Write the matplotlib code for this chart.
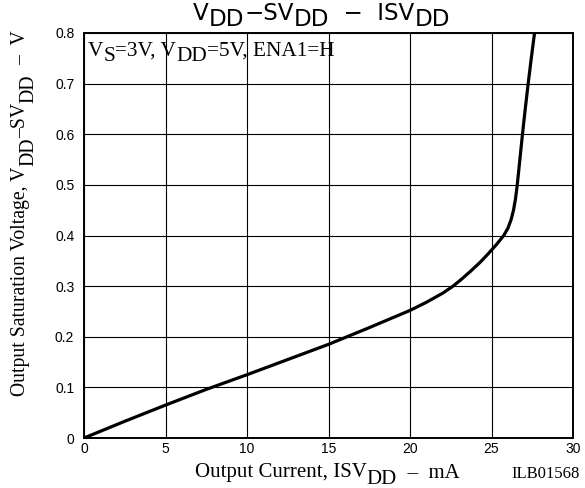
"""
Output saturation voltage VDD-SVDD against output current ISVDD.
"""

import matplotlib
matplotlib.use("Agg")
import matplotlib.pyplot as plt

# Curve
current_ma = [0, 2.5, 5, 7.5, 10, 12.5, 15, 17.5, 20, 21, 22, 22.6,
              23.1, 23.7, 24.3, 24.8, 25.3, 25.75, 26.0, 26.2, 26.35,
              26.47, 26.58, 26.74, 26.9, 27.07, 27.25, 27.44, 27.64]
voltage_v = [0, 0.033, 0.065, 0.096, 0.125, 0.155, 0.185, 0.218, 0.252,
             0.268, 0.286, 0.299, 0.312, 0.329, 0.347, 0.364, 0.382, 0.4,
             0.414, 0.431, 0.45, 0.472, 0.5, 0.55, 0.6, 0.65, 0.7, 0.75,
             0.8]

x_ticks = [0, 5, 10, 15, 20, 25, 30]
y_ticks = [0, 0.1, 0.2, 0.3, 0.4, 0.5, 0.6, 0.7, 0.8]
y_tick_labels = ["0", "0.1", "0.2", "0.3", "0.4", "0.5", "0.6", "0.7", "0.8"]

# Text runs: (string, is_subscript)
title_runs = [("V", False), ("DD", True), ("−SV", False), ("DD", True),
              ("  −  ISV", False), ("DD", True)]
cond_runs = [("V", False), ("S", True), ("=3V, V", False), ("DD", True),
             ("=5V, ENA1=H", False)]
xlabel_runs = [("Output Current, ISV", False), ("DD", True),
               ("  –  mA", False)]
ylabel_runs = [("Output Saturation Voltage, V", False), ("DD", True),
               ("–SV", False), ("DD", True), ("  –  V", False)]
fig_code = "ILB01568"

SERIF = "Liberation Serif"
SANS = "Liberation Sans"
WIDE_SANS = "DejaVu Sans"
W, H = 585, 488


def _run_width(fig, renderer, s, size, family):
    # width including spaces, measured between two bars
    t1 = fig.text(0, 0, "|" + s + "|", fontsize=size, family=family)
    t2 = fig.text(0, 0, "||", fontsize=size, family=family)
    w = (t1.get_window_extent(renderer).width
         - t2.get_window_extent(renderer).width)
    t1.remove()
    t2.remove()
    return w


def draw_runs(fig, x, y, runs, size, family, sub_scale=1.0, sub_drop=0,
              rotation=0, align="center"):
    """
    Draw text with real subscripts. x, y are pixels from the top-left,
    at the baseline.
    """
    renderer = fig.canvas.get_renderer()
    sizes = [size * sub_scale if sub else size for _, sub in runs]
    widths = [_run_width(fig, renderer, s, fs, family)
              for (s, _), fs in zip(runs, sizes)]
    total = sum(widths)
    pos = {"center": -total / 2, "left": 0, "right": -total}[align]
    for (s, sub), fs, w in zip(runs, sizes, widths):
        drop = sub_drop if sub else 0
        if rotation == 0:
            px, py = x + pos, y + drop
        else:
            px, py = x + drop, y - pos
        fig.text(px / W, 1 - py / H, s, fontsize=fs, family=family,
                 rotation=rotation, rotation_mode="anchor",
                 ha="left", va="baseline")
        pos += w


fig = plt.figure(figsize=(W / 100, H / 100), dpi=100)
ax = fig.add_axes([84 / W, 1 - 438 / H, (573 - 84) / W, (438 - 33) / H])

ax.plot(current_ma, voltage_v, color="black", linewidth=2.3,
        solid_capstyle="round", solid_joinstyle="round", zorder=3)

ax.set_xlim(0, 30)
ax.set_ylim(0, 0.8)
ax.set_xticks(x_ticks)
ax.set_yticks(y_ticks)
ax.set_yticklabels(y_tick_labels)
ax.tick_params(length=0, labelsize=10)
ax.tick_params(axis="x", pad=3)
ax.tick_params(axis="y", pad=7)
for lab in ax.get_xticklabels() + ax.get_yticklabels():
    lab.set_fontfamily(SANS)

# Grid lines
ax.grid(True, color="black", linewidth=0.8)
for sp in ax.spines.values():
    sp.set_linewidth(1.4)

draw_runs(fig, 193, 19.5, title_runs, 16.6, WIDE_SANS, sub_scale=1.0,
          sub_drop=7, align="left")
draw_runs(fig, 88, 56, cond_runs, 15.3, SERIF, sub_scale=1.0,
          sub_drop=5, align="left")
draw_runs(fig, 327, 477.5, xlabel_runs, 15, SERIF, sub_scale=1.0,
          sub_drop=6.5)
draw_runs(fig, 25, 213, ylabel_runs, 14.2, SERIF, sub_scale=1.0,
          sub_drop=8, rotation=90)

fig.text(580 / W, 1 - 478 / H, fig_code, fontfamily=SERIF, fontsize=12,
         ha="right", va="baseline")

fig.savefig("out.png", dpi=100)
